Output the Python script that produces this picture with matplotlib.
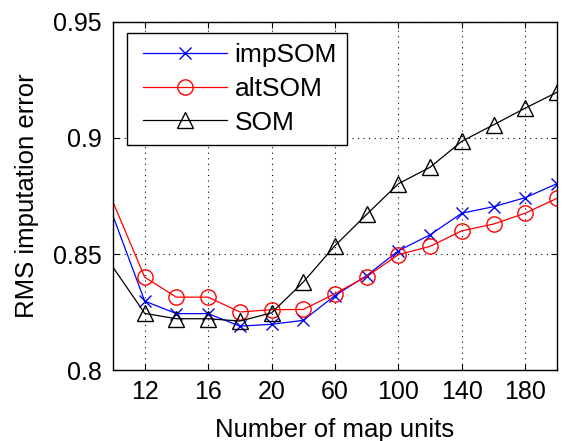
import matplotlib
matplotlib.use("Agg")
import matplotlib.pyplot as plt
from matplotlib.legend_handler import HandlerLine2D
import numpy as np

plt.rcParams['font.family'] = ['Liberation Sans', 'DejaVu Sans']

map_units = [10, 12, 14, 16, 18, 20, 40, 60, 80, 100, 120, 140, 160, 180, 200]
tick_labels = ['12', '16', '20', '60', '100', '140', '180']
imp_som = [0.8664, 0.8297, 0.8243, 0.8243, 0.8189, 0.8197, 0.8214, 0.8321,
           0.8407, 0.8514, 0.8583, 0.8676, 0.8704, 0.8743, 0.8803]
alt_som = [0.8724, 0.8400, 0.8314, 0.8314, 0.8250, 0.8260, 0.8261, 0.8329,
           0.8403, 0.8497, 0.8533, 0.8600, 0.8629, 0.8676, 0.8740]
som = [0.8443, 0.8244, 0.8221, 0.8221, 0.8211, 0.8246, 0.8379, 0.8536,
       0.8671, 0.8803, 0.8874, 0.8986, 0.9057, 0.9129, 0.9197]


class IndentedLineHandler(HandlerLine2D):
    """Line handle with some blank space at its left (MATLAB-like legend)."""
    def __init__(self, indent=0.0, **kw):
        super().__init__(**kw)
        self.indent = indent

    def get_xdata(self, legend, xdescent, ydescent, width, height, fontsize):
        off = self.indent * fontsize
        x0 = -xdescent + off
        x1 = -xdescent + width
        return np.array([x0, x1]), np.array([0.5 * (x0 + x1)])


x = np.arange(len(map_units))
mk = list(range(1, len(map_units)))

fig = plt.figure(figsize=(5.77, 4.41), dpi=100)
ax = fig.add_axes([113 / 577, 1 - 370 / 441, 444 / 577, 348 / 441])

l1, = ax.plot(x, imp_som, color='blue', lw=0.9, marker='x', ms=8, mew=1.0,
              markevery=mk, label='impSOM')
l2, = ax.plot(x, alt_som, color='red', lw=0.9, marker='o', ms=11, mfc='none', mew=1.0,
              markevery=mk, label='altSOM')
l3, = ax.plot(x, som, color='black', lw=0.9, marker='^', ms=12, mfc='none', mew=1.0,
              markevery=mk, label='SOM')

tick_pos = [map_units.index(int(t)) for t in tick_labels]
ax.set_xticks(tick_pos)
ax.set_xticklabels(tick_labels)
ax.set_xlim(0, len(map_units) - 1)
ax.set_ylim(0.8, 0.95)
ax.set_yticks([0.8, 0.85, 0.9, 0.95])
ax.set_yticklabels(['0.8', '0.85', '0.9', '0.95'])

ax.grid(True, linestyle=(0, (1, 4)), color='black', lw=0.8)
ax.tick_params(direction='in', top=True, right=True, labelsize=18, length=4, width=0.8)
ax.tick_params(axis='x', pad=7)
ax.tick_params(axis='y', pad=8)
for s in ax.spines.values():
    s.set_linewidth(1.0)

ax.set_xlabel('Number of map units', fontsize=18.5, labelpad=10)
ax.set_ylabel('RMS imputation error', fontsize=18.5, labelpad=10)

hm = {h: IndentedLineHandler(indent=0.22) for h in (l1, l2, l3)}
leg = ax.legend(loc='upper left', fontsize=19, fancybox=False, framealpha=1,
                edgecolor='black', borderpad=0.38, handlelength=3.4, handletextpad=0.3,
                bbox_to_anchor=(14 / 444, 1 - 11 / 348), borderaxespad=0,
                labelspacing=0.37, handler_map=hm)
leg.get_frame().set_linewidth(1.0)

fig.savefig('out.png', dpi=100)
